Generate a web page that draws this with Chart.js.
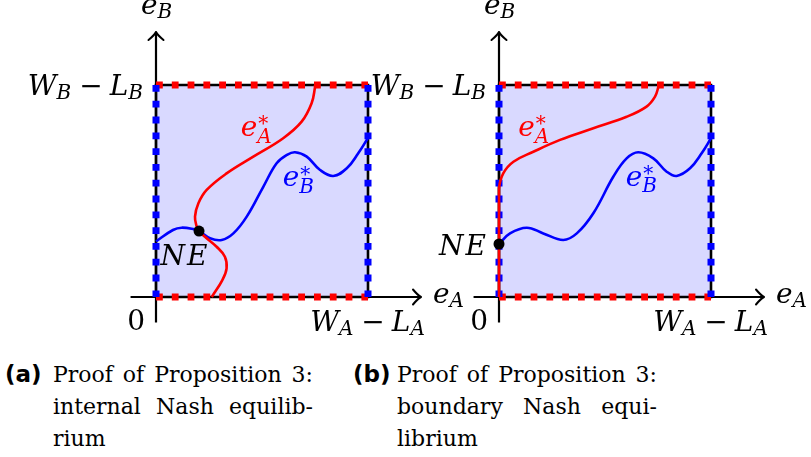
<!DOCTYPE html>
<html>
<head>
<meta charset="utf-8">
<script src="https://cdn.jsdelivr.net/npm/chart.js@4.4.0/dist/chart.umd.min.js"></script>
<style>
    body { margin: 0; background: #fff; }
    canvas.plot { position: absolute; left: 0; top: 0; }
    .cap { position: absolute; top: 359px; display: flex; align-items: baseline; }
    .j { text-align: justify; text-align-last: justify; }
</style>
</head>
<body>
<canvas id="panelA" class="plot" width="811" height="340"></canvas>
<canvas id="panelB" class="plot" width="811" height="340"></canvas>

<div class="cap" style="left:5px">
    <span style="font:bold 23px 'DejaVu Sans'; width:48px">(a)</span>
    <div style="font:22px 'DejaVu Serif'; line-height:32px; width:260px; white-space:nowrap">
        <div class="j">Proof of Proposition 3:</div>
        <div class="j">internal Nash equilib-</div>
        <div>rium</div>
    </div>
</div>
<div class="cap" style="left:353px">
    <span style="font:bold 23px 'DejaVu Sans'; width:44px">(b)</span>
    <div style="font:22px 'DejaVu Serif'; line-height:32px; width:260px; white-space:nowrap">
        <div class="j">Proof of Proposition 3:</div>
        <div class="j">boundary Nash equi-</div>
        <div>librium</div>
    </div>
</div>

<script>
/* ==========================================
   Data (box is 0..1 on both axes)
   ========================================== */

// feasible box and axis extent
const boxX = [0, 1];
const boxY = [0, 1];
const axisRange = [-0.12, 1.25];

// (a) internal Nash equilibrium
const aRedX  = [0.263, 0.313, 0.333, 0.325, 0.286, 0.231, 0.203, 0.192, 0.184, 0.200, 0.239, 0.333, 0.459, 0.600, 0.687, 0.734, 0.750, 0.750];
const aRedY  = [0.000, 0.080, 0.135, 0.190, 0.237, 0.284, 0.311, 0.332, 0.379, 0.442, 0.505, 0.583, 0.662, 0.749, 0.827, 0.914, 0.989, 1.000];
const aBlueX = [0.000, 0.080, 0.121, 0.181, 0.203, 0.255, 0.310, 0.365, 0.428, 0.506, 0.569, 0.617, 0.656, 0.711, 0.774, 0.836, 0.900, 0.954, 1.000];
const aBlueY = [0.262, 0.316, 0.327, 0.319, 0.311, 0.277, 0.269, 0.300, 0.379, 0.520, 0.631, 0.670, 0.683, 0.662, 0.599, 0.571, 0.607, 0.678, 0.750];
const aNE    = [0.203, 0.311];

// (b) boundary Nash equilibrium
const bRedX  = [0.000, 0.000, 0.000, 0.020, 0.068, 0.162, 0.288, 0.445, 0.602, 0.696, 0.736, 0.752, 0.753];
const bRedY  = [0.000, 0.300, 0.510, 0.583, 0.638, 0.685, 0.741, 0.796, 0.850, 0.898, 0.945, 0.992, 1.000];
const bBlueX = [0.000, 0.052, 0.131, 0.209, 0.303, 0.367, 0.445, 0.539, 0.602, 0.657, 0.728, 0.791, 0.838, 0.901, 0.956, 1.000];
const bBlueY = [0.250, 0.300, 0.327, 0.300, 0.269, 0.300, 0.395, 0.567, 0.654, 0.683, 0.654, 0.591, 0.571, 0.607, 0.678, 0.749];
const bNE    = [0.000, 0.250];

// label texts (runs: text, style)
const txtEB   = [["e", "it"], ["B", "sub"]];
const txtEA   = [["e", "it"], ["A", "sub"]];
const txtWB   = [["W", "it"], ["B", "sub"], ["\u2212", "op"], ["L", "it"], ["B", "sub"]];
const txtWA   = [["W", "it"], ["A", "sub"], ["\u2212", "op"], ["L", "it"], ["A", "sub"]];
const txtZero = [["0", "rm"]];
const txtEsA  = [["e", "it"], ["A", "star"]];
const txtEsB  = [["e", "it"], ["B", "star"]];
const txtNE   = [["NE", "it"]];

/* ==========================================
   Helpers
   ========================================== */

const RED = "#ff0000";
const BLUE = "#0000ff";
const FILL = "rgb(217,217,255)";
const MATH_FONT = "'DejaVu Serif'";
const MATH_SIZE = 28;

function pts(xs, ys) {
    return xs.map((v, i) => ({ x: v, y: ys[i] }));
}

function lineSet(data, color, width, order, extra) {
    return Object.assign({
        data: data,
        showLine: true,
        borderColor: color,
        borderWidth: width,
        pointRadius: 0,
        fill: false,
        clip: false,
        order: order
    }, extra || {});
}

// draws a small math expression
function drawMath(ctx, runs, x, y, align, color) {
    const s = MATH_SIZE;
    const fonts = {
        it:  "italic " + s + "px " + MATH_FONT,
        rm:  s + "px " + MATH_FONT,
        sub: "italic " + Math.round(s * 0.7) + "px " + MATH_FONT,
        sup: Math.round(s * 0.72) + "px " + MATH_FONT
    };
    const pad = s * 0.25;
    const gap = 2;

    const widths = runs.map(([t, st]) => {
        if (st === "op") { ctx.font = fonts.rm; return ctx.measureText(t).width + 2 * pad; }
        if (st === "sub" || st === "star") { ctx.font = fonts.sub; return ctx.measureText(t).width + 1; }
        ctx.font = fonts[st];
        return ctx.measureText(t).width + (t.length - 1) * gap;
    });
    const total = widths.reduce((a, b) => a + b, 0);
    let x0 = x;
    if (align === "right") x0 = x - total;
    if (align === "center") x0 = x - total / 2;

    ctx.save();
    ctx.translate(x0, y);
    ctx.fillStyle = color;
    ctx.textBaseline = "alphabetic";
    ctx.textAlign = "left";
    let cx = 0;
    runs.forEach(([t, st], i) => {
        if (st === "op") {
            ctx.font = fonts.rm;
            ctx.fillText(t, cx + pad, 0);
        } else if (st === "sub") {
            ctx.font = fonts.sub;
            ctx.fillText(t, cx, s * 0.13);
        } else if (st === "star") {
            ctx.font = fonts.sup;
            ctx.fillText("*", cx + 1, -s * 0.2);
            ctx.font = fonts.sub;
            ctx.fillText(t, cx, s * 0.24);
        } else {
            ctx.font = fonts[st];
            let gx = cx;
            for (const ch of t) {
                ctx.fillText(ch, gx, 0);
                gx += ctx.measureText(ch).width + gap;
            }
        }
        cx += widths[i];
    });
    ctx.restore();
}

// TikZ-like "to" arrow tip
function arrowHead(ctx, x, y, dx, dy) {
    const px = -dy, py = dx;
    ctx.beginPath();
    [-1, 1].forEach(s => {
        ctx.moveTo(x - 8 * dx + s * 7.5 * px, y - 8 * dy + s * 7.5 * py);
        ctx.quadraticCurveTo(x - 3 * dx + s * 1.5 * px, y - 3 * dy + s * 1.5 * py, x, y);
    });
    ctx.stroke();
}

const figurePlugin = {
    id: "figure",
    afterDraw(chart, args, opts) {
        const { ctx } = chart;
        const sx = chart.scales.x, sy = chart.scales.y;

        ctx.save();
        ctx.strokeStyle = "#000";
        ctx.lineWidth = 2;
        ctx.lineCap = "round";
        arrowHead(ctx, sx.getPixelForValue(axisRange[1]), sy.getPixelForValue(0), 1, 0);
        arrowHead(ctx, sx.getPixelForValue(0), sy.getPixelForValue(axisRange[1]), 0, -1);
        ctx.restore();

        opts.labels.forEach(l => {
            const px = sx.getPixelForValue(l.at[0]) + l.off[0];
            const py = sy.getPixelForValue(l.at[1]) + l.off[1];
            drawMath(ctx, l.text, px, py, l.align, l.color || "#000");
        });
    }
};

/* ==========================================
   Panels
   ========================================== */

function axisLabels() {
    return [
        { text: txtEB,   at: [0, axisRange[1]], off: [-15, -18], align: "left" },
        { text: txtWB,   at: [0, 1],            off: [-12, 10],  align: "right" },
        { text: txtZero, at: [0, 0],            off: [-11, 33],  align: "right" },
        { text: txtWA,   at: [1, 0],            off: [0, 34],    align: "center" },
        { text: txtEA,   at: [axisRange[1], 0], off: [12, 6],    align: "left" }
    ];
}

function makePanel(id, left, red, blue, ne, labels) {
    const box = [
        { x: boxX[0], y: boxY[0] }, { x: boxX[1], y: boxY[0] },
        { x: boxX[1], y: boxY[1] }, { x: boxX[0], y: boxY[1] }, { x: boxX[0], y: boxY[0] }
    ];
    const dash = { borderDash: [6.8, 9], borderCapStyle: "butt" };

    return new Chart(document.getElementById(id), {
        type: "scatter",
        data: {
            datasets: [
                lineSet([{ x: boxX[0], y: boxY[1] }, { x: boxX[1], y: boxY[1] }], "rgba(0,0,0,0)", 0, 10,
                    { fill: "origin", backgroundColor: FILL }),
                lineSet(box, "#000", 2.6, 9, { borderJoinStyle: "miter" }),
                lineSet([{ x: axisRange[0], y: 0 }, { x: axisRange[1], y: 0 }], "#000", 2.2, 8),
                lineSet([{ x: 0, y: axisRange[0] }, { x: 0, y: axisRange[1] }], "#000", 2.2, 8),
                lineSet([{ x: boxX[0], y: boxY[1] }, { x: boxX[1], y: boxY[1] }], RED, 7, 6, dash),
                lineSet([{ x: boxX[0], y: boxY[0] }, { x: boxX[1], y: boxY[0] }], RED, 7, 6, dash),
                lineSet([{ x: boxX[0], y: boxY[1] }, { x: boxX[0], y: boxY[0] }], BLUE, 7, 5, dash),
                lineSet([{ x: boxX[1], y: boxY[1] }, { x: boxX[1], y: boxY[0] }], BLUE, 7, 5, dash),
                lineSet(blue, BLUE, 2.6, 3, { tension: 0.4 }),
                lineSet(red, RED, 2.6, 2, { tension: 0.4 }),
                {
                    data: [{ x: ne[0], y: ne[1] }],
                    pointRadius: 5.5,
                    pointBackgroundColor: "#000",
                    pointBorderWidth: 0,
                    clip: false,
                    order: 0
                }
            ]
        },
        options: {
            responsive: false,
            animation: false,
            events: [],
            layout: { padding: { left: left, right: 811 - left - 212, top: 85, bottom: 43 } },
            scales: {
                x: { type: "linear", min: 0, max: 1, display: false },
                y: { type: "linear", min: 0, max: 1, display: false }
            },
            plugins: {
                legend: { display: false },
                tooltip: { enabled: false },
                figure: { labels: axisLabels().concat(labels) }
            }
        },
        plugins: [figurePlugin]
    });
}

makePanel("panelA", 156, pts(aRedX, aRedY), pts(aBlueX, aBlueY), aNE, [
    { text: txtEsA, at: [0.40, 0.76], off: [0, 0], align: "left", color: RED },
    { text: txtEsB, at: [0.598, 0.523], off: [0, 0], align: "left", color: BLUE },
    { text: txtNE,  at: aNE, off: [-15, 34], align: "center" }
]);

makePanel("panelB", 499, pts(bRedX, bRedY), pts(bBlueX, bBlueY), bNE, [
    { text: txtEsA, at: [0.091, 0.76], off: [0, 0], align: "left", color: RED },
    { text: txtEsB, at: [0.598, 0.525], off: [0, 0], align: "left", color: BLUE },
    { text: txtNE,  at: bNE, off: [-13, 11], align: "right" }
]);
</script>
</body>
</html>
